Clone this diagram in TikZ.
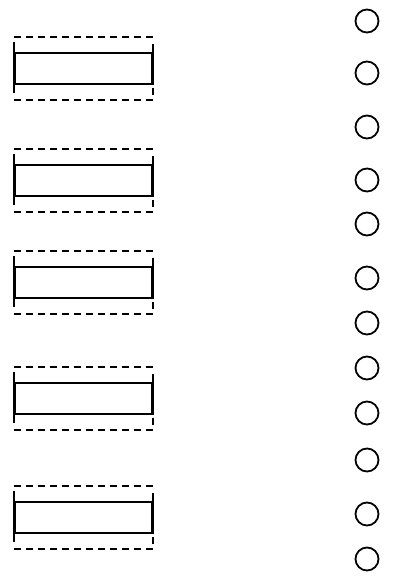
\documentclass[tikz,border=0pt]{standalone}
\begin{document}
\begin{tikzpicture}[x=1pt,y=-1pt,
  ring/.style={circle,draw,line width=1.8pt,minimum size=23pt,inner sep=0pt},
  bar/.style={draw,line width=1.8pt,minimum width=137pt,minimum height=31pt,inner sep=0pt},
  dashline/.style={line width=1.8pt,dash pattern=on 7pt off 5pt}]
\useasboundingbox (0,0) rectangle (393,582);
% circles
\foreach \i/\y in {1/21,2/73,3/127,4/180,5/224,6/278,7/323,8/368,9/413,10/460,11/514,12/559}{
  \node[ring] (c\i) at (367,\y) {};
}
% boxes
\foreach \i/\t in {1/53,2/165,3/267,4/383,5/502}{
  \node[bar] (b\i) at (83.5,\t+15.5) {};
  \draw[dashline] ([yshift=15pt]b\i.north west) -- ([yshift=15pt]b\i.north east);
  \draw[dashline] ([yshift=-15pt]b\i.south west) -- ([yshift=-15pt]b\i.south east);
  \draw[line width=1.8pt] ([yshift=10pt]b\i.north west) -- ([yshift=-8pt]b\i.south west);
  \draw[line width=1.8pt] ([yshift=8pt]b\i.north east) -- (b\i.south east);
  \draw[line width=1.8pt] ([yshift=-3pt]b\i.south east) -- ([yshift=-10pt]b\i.south east);
}
\end{tikzpicture}
\end{document}
